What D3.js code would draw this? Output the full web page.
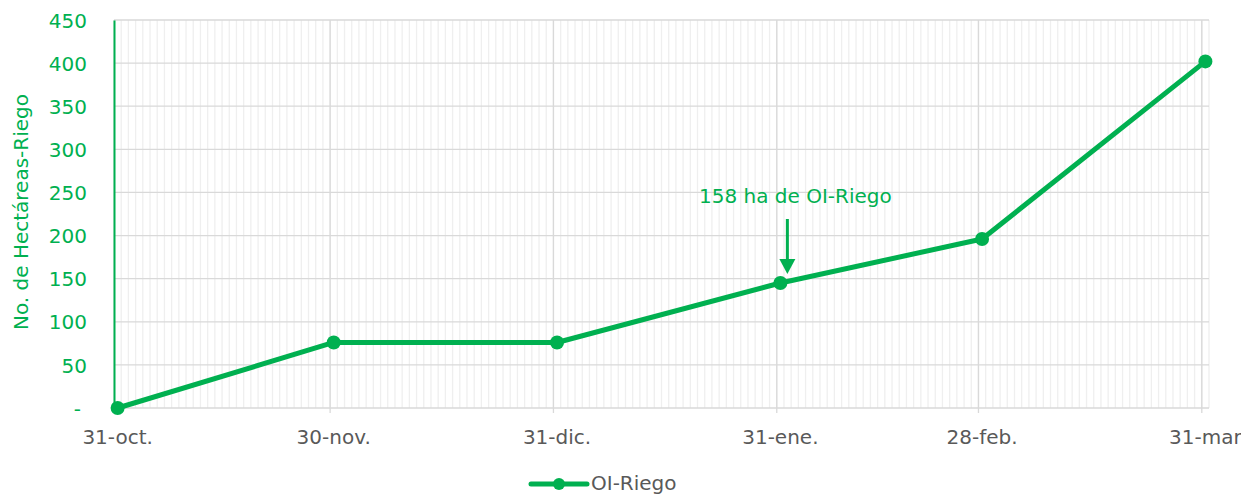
<!DOCTYPE html>
<html>
<head>
<meta charset="utf-8">
<script src="https://cdn.jsdelivr.net/npm/d3@7"></script>
<style>
  body { margin: 0; background: #fff; }
  text { font-family: "DejaVu Sans", sans-serif; }
</style>
</head>
<body>
<div class="mainviz"></div>
<script>
// data
var fechas = ["2020-10-31", "2020-11-30", "2020-12-31", "2021-01-31", "2021-02-28", "2021-03-31"];
var etiquetas = ["31-oct.", "30-nov.", "31-dic.", "31-ene.", "28-feb.", "31-mar"];
var hectareas = [0, 76, 76, 145, 196, 402];
var yTicks = [0, 50, 100, 150, 200, 250, 300, 350, 400, 450];
var serie = "OI-Riego";
var nota = "158 ha de OI-Riego";
var notaFecha = "2021-01-31";

var verde = "#00b050", gris = "#595959";
var margin = { top: 20, right: 32, bottom: 87, left: 114 };
var width = 1241 - margin.left - margin.right,
    height = 495 - margin.top - margin.bottom;

var parse = d3.utcParse("%Y-%m-%d");
var data = fechas.map(function(f, i) {
  return { fecha: parse(f), label: etiquetas[i], v: hectareas[i] };
});

var svg = d3.select(".mainviz").append("svg")
  .attr("width", 1241)
  .attr("height", 495);

var chartGroup = svg.append("g")
  .attr("transform", "translate(" + margin.left + "," + margin.top + ")");

var x = d3.scaleUtc()
  .domain([data[0].fecha, d3.utcDay.offset(data[data.length - 1].fecha, 1)])
  .range([0, width]);

var y = d3.scaleLinear()
  .domain([0, 450])
  .range([height, 0]);

function mid(d) { return x(d3.utcHour.offset(d, 12)); }

// minor vertical grid (one per day)
chartGroup.selectAll("line.minor")
  .data(d3.utcDay.range(x.domain()[0], x.domain()[1]).concat([x.domain()[1]]))
  .enter().append("line")
  .attr("class", "minor")
  .attr("x1", function(d) { return x(d); })
  .attr("x2", function(d) { return x(d); })
  .attr("y1", 0).attr("y2", height)
  .attr("stroke", "#efefef").attr("stroke-width", 1.3);

// horizontal grid
chartGroup.selectAll("line.hgrid")
  .data(yTicks)
  .enter().append("line")
  .attr("class", "hgrid")
  .attr("x1", 0).attr("x2", width)
  .attr("y1", function(d) { return y(d); })
  .attr("y2", function(d) { return y(d); })
  .attr("stroke", "#d9d9d9").attr("stroke-width", 1.3);

// major vertical grid
chartGroup.selectAll("line.major")
  .data(data.slice(1))
  .enter().append("line")
  .attr("class", "major")
  .attr("x1", function(d) { return x(d.fecha); })
  .attr("x2", function(d) { return x(d.fecha); })
  .attr("y1", 0).attr("y2", height + 5)
  .attr("stroke", "#d9d9d9").attr("stroke-width", 1.3);

// y axis
var yAxis = d3.axisLeft(y).tickValues(yTicks).tickSize(0).tickPadding(27)
  .tickFormat(function(d) { return d === 0 ? "-" : d; });

var gy = chartGroup.append("g")
  .attr("class", "axis y")
  .call(yAxis);
gy.select(".domain").attr("stroke", verde).attr("stroke-width", 2);
gy.selectAll("text")
  .attr("fill", verde)
  .style("font-family", "DejaVu Sans")
  .style("font-size", "20px")
  .attr("dy", "0.36em");
gy.selectAll("text").filter(function(d) { return d === 0; }).attr("dx", -6);

// x axis labels
chartGroup.selectAll("text.xlab")
  .data(data)
  .enter().append("text")
  .attr("class", "xlab")
  .attr("x", function(d) { return mid(d.fecha); })
  .attr("y", height + 36)
  .attr("text-anchor", "middle")
  .attr("fill", gris)
  .style("font-size", "20px")
  .text(function(d) { return d.label; });

// y label
svg.append("text")
  .attr("transform", "translate(28," + (margin.top + height / 2 - 2) + ") rotate(-90)")
  .attr("text-anchor", "middle")
  .attr("fill", verde)
  .style("font-size", "20px")
  .text("No. de Hectáreas-Riego");

// line
var line = d3.line()
  .x(function(d) { return mid(d.fecha); })
  .y(function(d) { return y(d.v); });

chartGroup.append("path")
  .attr("d", line(data))
  .attr("fill", "none")
  .attr("stroke", verde)
  .attr("stroke-width", 5)
  .attr("stroke-linejoin", "round");

chartGroup.selectAll("circle.pt")
  .data(data)
  .enter().append("circle")
  .attr("class", "pt")
  .attr("cx", function(d) { return mid(d.fecha); })
  .attr("cy", function(d) { return y(d.v); })
  .attr("r", 7)
  .attr("fill", verde);

// annotation
var nd = data.filter(function(d) { return d.fecha.getTime() === parse(notaFecha).getTime(); })[0];
var ax = mid(nd.fecha) + 7;
chartGroup.append("text")
  .attr("x", ax + 8)
  .attr("y", y(nd.v) - 80)
  .attr("text-anchor", "middle")
  .attr("fill", verde)
  .style("font-size", "20px")
  .text(nota);
chartGroup.append("line")
  .attr("x1", ax).attr("x2", ax)
  .attr("y1", y(nd.v) - 64).attr("y2", y(nd.v) - 22)
  .attr("stroke", verde).attr("stroke-width", 3);
chartGroup.append("path")
  .attr("d", "M" + (ax - 8) + "," + (y(nd.v) - 24) + "L" + (ax + 8) + "," + (y(nd.v) - 24) + "L" + ax + "," + (y(nd.v) - 9) + "Z")
  .attr("fill", verde);

// legend
var lg = svg.append("g").attr("transform", "translate(531,484)");
lg.append("line").attr("x1", 0).attr("x2", 56).attr("stroke", verde).attr("stroke-width", 5).attr("stroke-linecap", "round");
lg.append("circle").attr("cx", 28).attr("r", 6).attr("fill", verde);
lg.append("text").attr("x", 60).attr("y", 6).attr("fill", gris).style("font-size", "20px").text(serie);
</script>
</body>
</html>
